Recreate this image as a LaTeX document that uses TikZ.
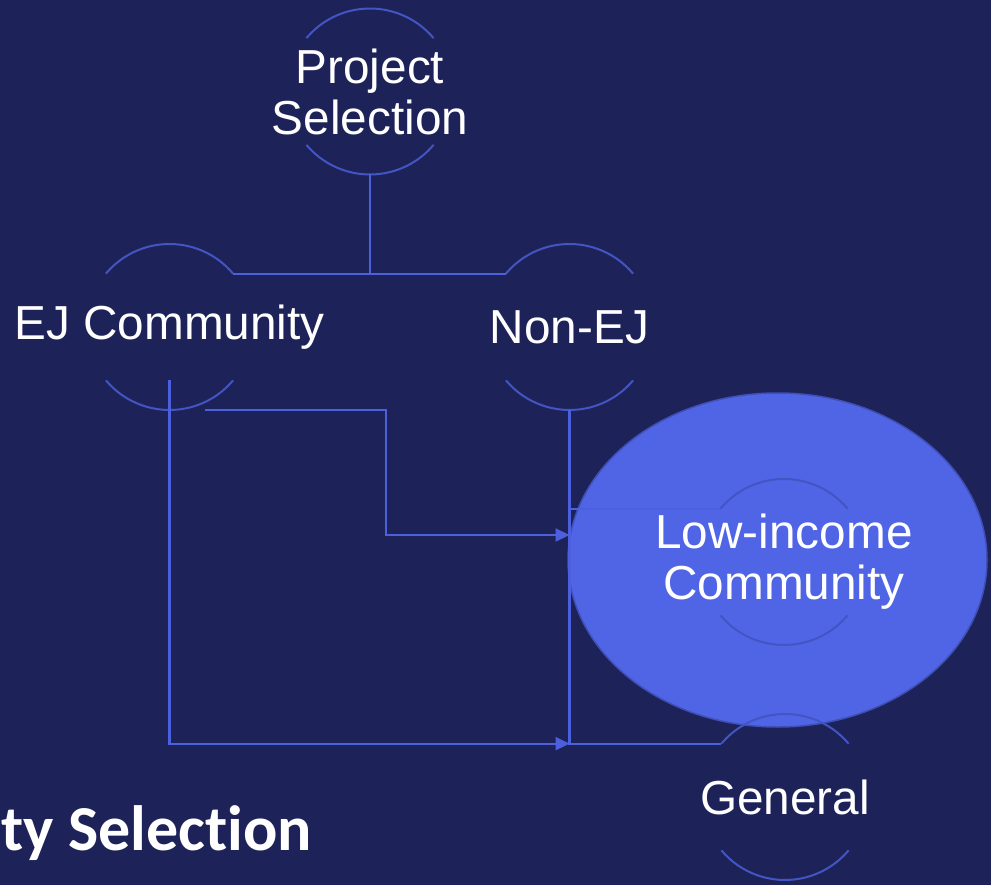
\documentclass[tikz,border=0pt]{standalone}
\usepackage{fontspec}
\setmainfont{Liberation Sans}
\newfontfamily\titlefont[Ligatures={NoCommon}]{Carlito}
\usetikzlibrary{shapes.geometric,arrows.meta}
\definecolor{bgc}{HTML}{1D2359}
\definecolor{arcc}{HTML}{4354C3}
\definecolor{connc}{HTML}{4C5FDC}
\definecolor{ellf}{HTML}{5065E6}
\definecolor{ellc}{HTML}{3F4FB5}
\newcommand\arcnode[3]{%
  \node[lbl] (#1) at (#2) {#3};
  \coordinate (#1-tr) at ([shift={(40:83)}]#1.center);
  \coordinate (#1-tl) at ([shift={(140:83)}]#1.center);
  \coordinate (#1-bl) at ([shift={(220:83)}]#1.center);
  \coordinate (#1-br) at ([shift={(320:83)}]#1.center);
  \coordinate (#1-top) at ([shift={(0,83)}]#1.center);
  \coordinate (#1-bot) at ([shift={(0,-83)}]#1.center);
  \draw[arcline] (#1-tr) arc[start angle=40,end angle=140,radius=83];
  \draw[arcline] (#1-bl) arc[start angle=220,end angle=320,radius=83];
}
\begin{document}
\begin{tikzpicture}[x=1pt,y=1pt,
  lbl/.style={inner sep=0pt,outer sep=0pt,text=white,align=center,font=\fontsize{47.7}{51}\selectfont},
  arcline/.style={draw=arcc,line width=2pt},
  conn/.style={draw=connc,line width=2.2pt},
  arr/.style={-{Triangle[length=14pt,width=13pt]}}]
\useasboundingbox (0,0) rectangle (991,-885);
\clip (0,0) rectangle (991,-885);
\fill[bgc] (0,0) rectangle (991,-885);
\node[ellipse,draw=ellc,fill=ellf,line width=1.5pt,minimum width=419pt,minimum height=334pt,inner sep=0pt] (ell) at (777.5,-560) {};
\arcnode{ps}{370,-91.5}{Project\\Selection}
\arcnode{ej}{169.5,-327}{EJ Community}
\arcnode{nej}{569.5,-327}{Non-EJ}
\arcnode{li}{784,-562}{Low-income\\Community}
\arcnode{gen}{785,-797}{General}
\coordinate (bend) at (386,-535);
\draw[conn] (ps-bot) -- (ps-bot |- ej-tr);
\draw[conn] (ej-tr) -- (nej-tl);
\draw[conn] (nej-bot) -- (nej-bot |- gen-tl) -- (gen-tl);
\draw[conn] (nej-bot |- li-tl) -- (li-tl);
\draw[conn,arr] (ej.center |- ej-bl) |- (nej-bot |- gen-tl);
\draw[conn,arr] ([xshift=35pt]ej-bot) -| (bend) -- (nej-bot |- bend);
\node[anchor=base west,text=white,font=\titlefont\bfseries\fontsize{64}{74}\selectfont,inner sep=0pt] (title) at (1,-850) {ty Selection};
\end{tikzpicture}
\end{document}
